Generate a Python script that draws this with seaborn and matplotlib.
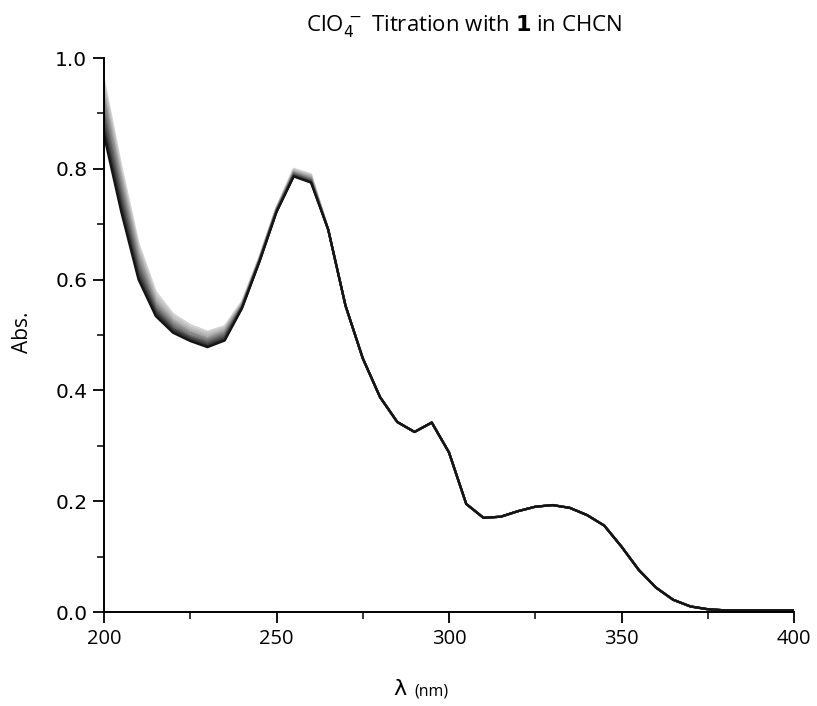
import numpy as np
import pandas as pd
import matplotlib
matplotlib.use("Agg")
import matplotlib.pyplot as plt
import seaborn as sns
from matplotlib.ticker import MultipleLocator

# ---- data ----
head_wavelengths = [200, 205, 210, 215, 220, 225, 230, 235, 240, 245, 250, 255, 260]
tail_wavelengths = [265, 270, 275, 280, 285, 290, 295, 300, 305, 310, 315, 320, 325, 330,
                    335, 340, 345, 350, 355, 360, 365, 370, 375, 380, 385, 390, 395, 400]
tail_abs = [0.690, 0.553, 0.458, 0.388, 0.343, 0.325, 0.342, 0.288, 0.195, 0.170, 0.172,
            0.182, 0.190, 0.193, 0.188, 0.175, 0.156, 0.118, 0.076, 0.044, 0.022, 0.010,
            0.005, 0.003, 0.003, 0.003, 0.003, 0.003]

head_c1 = [0.960, 0.805, 0.665, 0.578, 0.538, 0.518, 0.506, 0.516, 0.560, 0.640, 0.730, 0.800, 0.790]
head_c2 = [0.950, 0.795, 0.658, 0.572, 0.534, 0.514, 0.503, 0.513, 0.558, 0.638, 0.729, 0.798, 0.788]
head_c3 = [0.940, 0.788, 0.652, 0.566, 0.529, 0.510, 0.499, 0.510, 0.556, 0.637, 0.728, 0.796, 0.786]
head_c4 = [0.930, 0.780, 0.645, 0.560, 0.525, 0.506, 0.495, 0.507, 0.555, 0.636, 0.727, 0.794, 0.784]
head_c5 = [0.920, 0.770, 0.636, 0.555, 0.521, 0.503, 0.492, 0.504, 0.553, 0.635, 0.726, 0.793, 0.782]
head_c6 = [0.905, 0.760, 0.628, 0.550, 0.517, 0.499, 0.489, 0.501, 0.552, 0.634, 0.725, 0.791, 0.780]
head_c7 = [0.895, 0.750, 0.620, 0.546, 0.513, 0.496, 0.486, 0.498, 0.551, 0.633, 0.724, 0.790, 0.779]
head_c8 = [0.880, 0.740, 0.612, 0.542, 0.510, 0.494, 0.483, 0.495, 0.550, 0.632, 0.723, 0.788, 0.777]
head_c9 = [0.870, 0.730, 0.605, 0.538, 0.507, 0.491, 0.480, 0.492, 0.549, 0.632, 0.722, 0.787, 0.776]
head_c10 = [0.860, 0.722, 0.600, 0.534, 0.504, 0.489, 0.478, 0.490, 0.548, 0.631, 0.722, 0.786, 0.775]
heads = [head_c1, head_c2, head_c3, head_c4, head_c5, head_c6, head_c7, head_c8, head_c9, head_c10]
curve_names = [f"c{i+1}" for i in range(len(heads))]

x_ticks = [200, 250, 300, 350, 400]
y_ticks = [0.0, 0.2, 0.4, 0.6, 0.8, 1.0]

# ---- build frame ----
rows = []
for name, h in zip(curve_names, heads):
    for w, a in zip(head_wavelengths + tail_wavelengths, h + tail_abs):
        rows.append({"wl": w, "abs": a, "curve": name})
df = pd.DataFrame(rows)

sns.set_style("ticks")
plt.rcParams.update({"text.color": "black", "xtick.color": "black",
                     "ytick.color": "black", "axes.labelcolor": "black",
                     "axes.edgecolor": "black"})
fig = plt.figure(figsize=(8.17, 7.06), dpi=100)
ax = fig.add_axes([104/817, 1-612/706, (794-104)/817, (612-58)/706])

grays = ["#d4d4d4", "#c2c2c2", "#b0b0b0", "#9a9a9a", "#858585",
         "#6e6e6e", "#585858", "#404040", "#2a2a2a", "#141414"]
sns.lineplot(data=df, x="wl", y="abs", hue="curve", hue_order=curve_names,
             palette=grays, linewidth=1.6, legend=False, ax=ax, estimator=None,
             sort=False)

ax.set_xlim(200, 400)
ax.set_ylim(0, 1.0)
ax.set_xticks(x_ticks)
ax.set_yticks(y_ticks)
ax.set_yticklabels([f"{v:.1f}" for v in y_ticks], fontfamily="DejaVu Sans", fontsize=14.5)
ax.set_xticklabels([str(v) for v in x_ticks], fontfamily="Open Sans", fontsize=14.5)
ax.xaxis.set_minor_locator(MultipleLocator(25))
ax.yaxis.set_minor_locator(MultipleLocator(0.1))
ax.tick_params(which="major", direction="out", length=8, width=1.3, color="black", pad=4)
ax.tick_params(which="minor", direction="out", length=5, width=1.1, color="black")
for s in ["top", "right"]:
    ax.spines[s].set_visible(False)
for s in ["left", "bottom"]:
    ax.spines[s].set_linewidth(1.4)
    ax.spines[s].set_color("black")
ax.set_xlabel("")
ax.set_ylabel("")

fig.text(22/817, 1-332/706, "Abs.", rotation=90, ha="center", va="center",
         fontfamily="Open Sans", fontsize=15)
fig.text(400/817, 1-689/706, "λ", ha="center", va="center",
         fontfamily="DejaVu Sans", fontsize=16)
fig.text(431/817, 1-692/706, "(nm)", ha="center", va="center",
         fontfamily="Open Sans", fontsize=11.5)
fig.text(464/817, 1-26/706, r"ClO$_4^{\,-}$ Titration with $\mathbf{1}$ in CHCN",
         ha="center", va="center", fontfamily="Open Sans", fontsize=16)

fig.savefig("out.png", dpi=100, facecolor="white")
